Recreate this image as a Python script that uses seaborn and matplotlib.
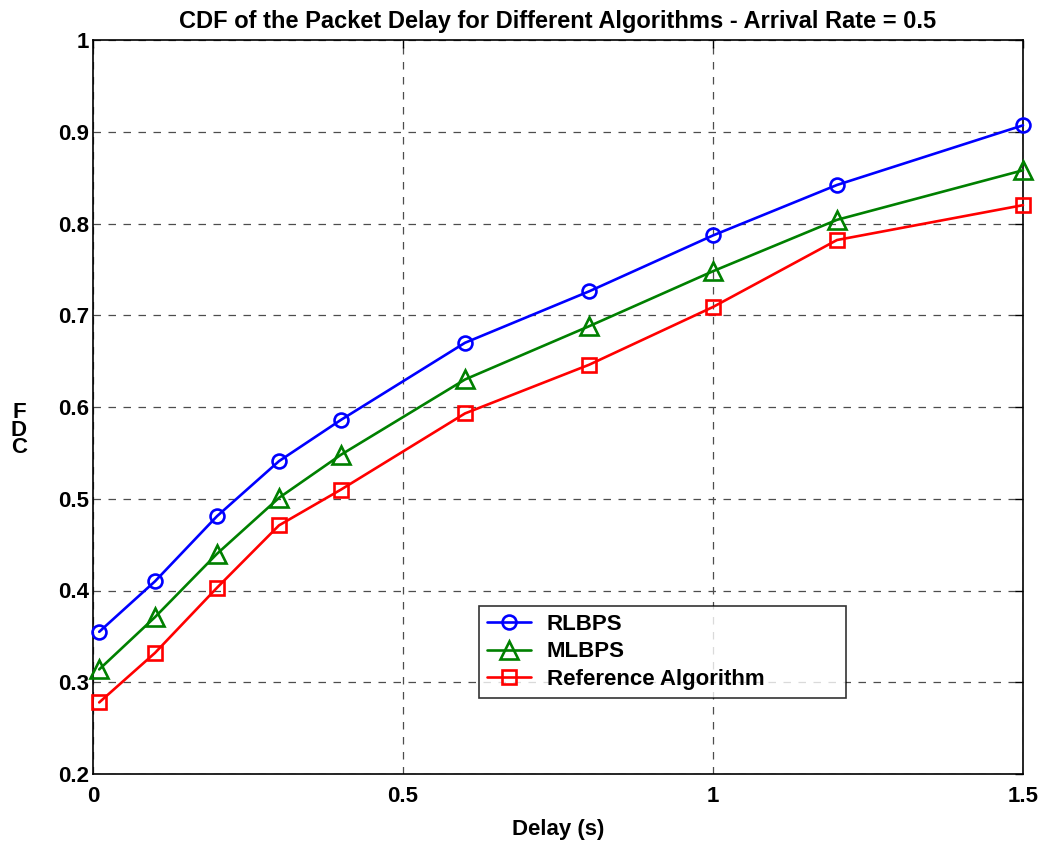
import matplotlib
matplotlib.use("Agg")
import matplotlib.pyplot as plt
import seaborn as sns
import pandas as pd

delay = [0.01, 0.1, 0.2, 0.3, 0.4, 0.6, 0.8, 1.0, 1.2, 1.5]
rlbps = [0.355, 0.410, 0.481, 0.541, 0.586, 0.670, 0.726, 0.787, 0.842, 0.907]
mlbps = [0.314, 0.371, 0.440, 0.501, 0.548, 0.630, 0.688, 0.748, 0.804, 0.858]
reference = [0.278, 0.332, 0.403, 0.471, 0.510, 0.593, 0.646, 0.709, 0.782, 0.820]

series_names = ["RLBPS", "MLBPS", "Reference Algorithm"]
series_values = [rlbps, mlbps, reference]
colors = ["#0000FF", "#008000", "#FF0000"]
markers = ["o", "^", "s"]
marker_sizes = [10, 13, 10]

xticks = [0, 0.5, 1, 1.5]
xtick_labels = ["0", "0.5", "1", "1.5"]
yticks = [0.2, 0.3, 0.4, 0.5, 0.6, 0.7, 0.8, 0.9, 1.0]
ytick_labels = ["0.2", "0.3", "0.4", "0.5", "0.6", "0.7", "0.8", "0.9", "1"]

sns.set_style("white")
plt.rcParams["font.family"] = ["Liberation Sans", "DejaVu Sans"]
plt.rcParams["font.weight"] = "bold"
plt.rcParams["text.color"] = "black"
plt.rcParams["axes.labelcolor"] = "black"
plt.rcParams["xtick.color"] = "black"
plt.rcParams["ytick.color"] = "black"

fig = plt.figure(figsize=(10.49, 8.43), dpi=100)
ax = fig.add_axes([93 / 1049, 69 / 843, 930 / 1049, 734 / 843])

for name, vals, c, m, ms in zip(series_names, series_values, colors, markers, marker_sizes):
    df = pd.DataFrame({"Delay": delay, "CDF": vals})
    sns.lineplot(data=df, x="Delay", y="CDF", ax=ax, color=c, marker=m,
                 markersize=ms, markerfacecolor="none", markeredgecolor=c,
                 markeredgewidth=1.9, linewidth=1.9, label=name, zorder=3,
                 clip_on=False)

ax.set_xlim(0, 1.5)
ax.set_ylim(0.2, 1.0)
ax.set_xticks(xticks)
ax.set_xticklabels(xtick_labels)
ax.set_yticks(yticks)
ax.set_yticklabels(ytick_labels)
ax.tick_params(axis="both", which="both", direction="in", length=6, width=1,
               top=True, right=True, labelsize=16, colors="black")
ax.tick_params(axis="x", pad=9)
ax.tick_params(axis="y", pad=3)
for lbl in ax.get_xticklabels() + ax.get_yticklabels():
    lbl.set_fontweight("bold")

ax.grid(True, color="0.3", linestyle=(0, (6, 6)), linewidth=0.9)
for s in ax.spines.values():
    s.set_color("black")
    s.set_linewidth(1.2)
    s.set_visible(True)

ax.set_xlabel("Delay (s)", fontsize=16, fontweight="bold", labelpad=8)
ax.set_ylabel("")
fig.text(19 / 1049, 1 - 430 / 843, "F\nD\nC", ha="center", va="center",
         fontsize=16, fontweight="bold", linespacing=0.8)
ax.set_title("CDF of the Packet Delay for Different Algorithms - Arrival Rate = 0.5",
             fontsize=17, fontweight="bold", pad=9)

leg = ax.legend(loc="upper left",
                bbox_to_anchor=(386 / 930, (774 - 692) / 734, 367 / 930, 86 / 734),
                mode="expand", fontsize=16, frameon=True, fancybox=False,
                edgecolor="black", borderpad=0.35, labelspacing=0.3,
                handlelength=2.0, handletextpad=0.7, borderaxespad=0)
leg.get_frame().set_linewidth(1.2)
for t in leg.get_texts():
    t.set_fontweight("bold")

fig.savefig("out.png", dpi=100)
